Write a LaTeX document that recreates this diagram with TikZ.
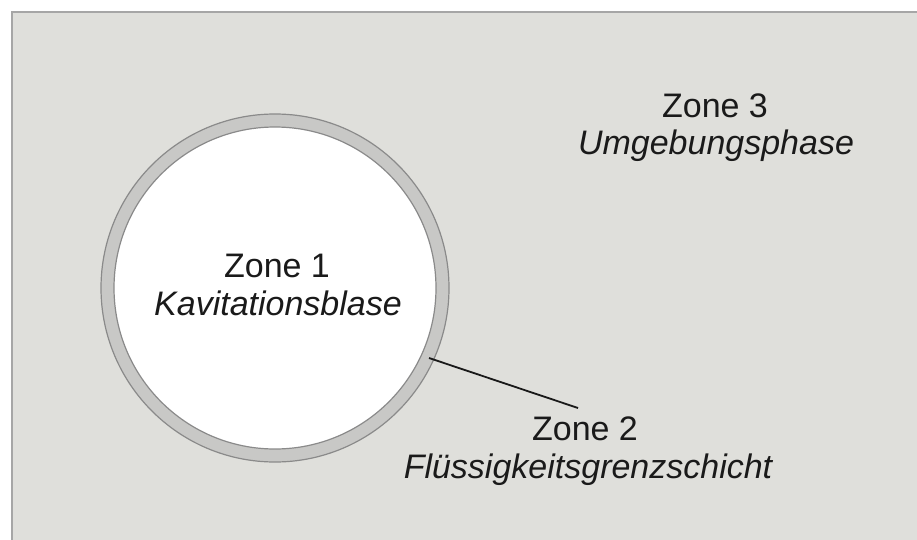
\documentclass[tikz,border=0pt]{standalone}
\usepackage{fontspec}
\setmainfont{Liberation Sans}
\definecolor{bgpanel}{HTML}{DFDFDB}
\definecolor{panelline}{HTML}{A6A6A6}
\definecolor{ringfill}{HTML}{C8C8C6}
\definecolor{ringline}{HTML}{8A8A8A}
\definecolor{txt}{HTML}{1A1A1A}
\tikzset{
  lbl/.style={anchor=base, inner sep=0pt, text=txt, font=\fontsize{34}{38}\selectfont},
  lblit/.style={lbl, font=\fontsize{34}{38}\selectfont\itshape},
  leader/.style={draw=black!90, line width=1.8pt},
}
\begin{document}
\begin{tikzpicture}[x=1pt,y=-1pt]
  \useasboundingbox (0,0) rectangle (917,540);
  \fill[white] (0,0) rectangle (917,540);
  % panel
  \fill[bgpanel] (11.5,12.5) rectangle (930,560);
  \draw[panelline, line width=2pt] (11.5,560) -- (11.5,12.5) -- (930,12.5);
  % bubble with boundary layer
  \coordinate (c) at (275,288);
  \fill[ringfill, draw=ringline, line width=1.2pt] (c) circle[radius=174];
  \fill[white, draw=ringline, line width=1.2pt] (c) circle[radius=161];
  % texts
  \node[lbl]   (z1a) at (277,277) {Zone 1};
  \node[lblit] (z1b) at (278,315) {Kavitationsblase};
  \node[lbl]   (z3a) at (715,118) {Zone 3};
  \node[lblit] (z3b) at (716,154) {Umgebungsphase};
  \node[lbl]   (z2a) at (585,440) {Zone 2};
  \node[lblit] (z2b) at (588,478) {Flüssigkeitsgrenzschicht};
  % leader line
  \coordinate (ringpt) at (429,358);
  \coordinate (leadend) at (578,408);
  \draw[leader] (ringpt) -- (leadend);
\end{tikzpicture}
\end{document}
